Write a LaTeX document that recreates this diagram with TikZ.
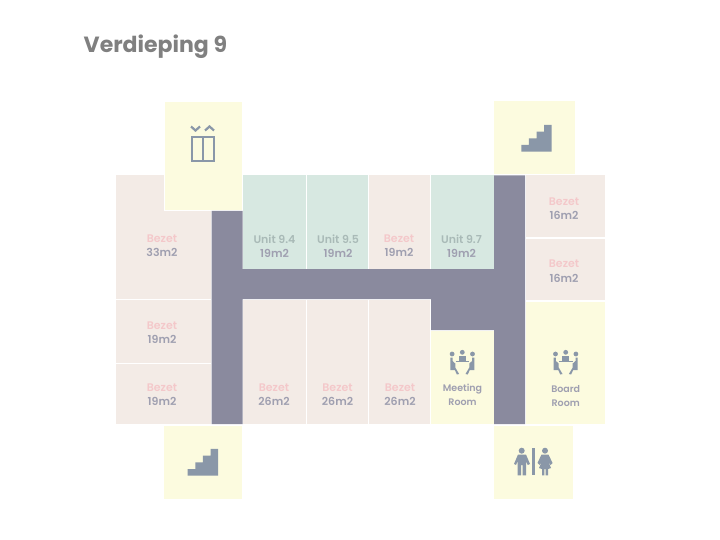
\documentclass[tikz,border=0pt]{standalone}
\usepackage{fontspec}
\setmainfont{Poppins}
\newfontfamily\labelfont{Poppins SemiBold}
\usetikzlibrary{calc}
\definecolor{facility}{HTML}{FCFBDF}
\definecolor{taken}{HTML}{F3EBE6}
\definecolor{free}{HTML}{D7E8E1}
\definecolor{corridor}{HTML}{8A8A9E}
\definecolor{icon}{HTML}{8A97A8}
\definecolor{bezet}{HTML}{F3C8CA}
\definecolor{areatext}{HTML}{9F9FB0}
\definecolor{unittext}{HTML}{A9BAB7}
\tikzset{
	roomlabel/.style={align=center, inner sep=0pt, text=areatext, font=\labelfont\fontsize{11}{14.3}\selectfont},
	smalllabel/.style={roomlabel, font=\labelfont\fontsize{9.5}{13.6}\selectfont},
}
\def\stairsicon(#1,#2){\fill[icon] ($(#1,#2)$) -- ++(0,-6.7) -- ++(7.6,0) -- ++(0,-6.7) -- ++(7.6,0) -- ++(0,-6.7) -- ++(7.6,0) -- ++(0,-6.7) -- ++(7.6,0) -- ++(0,26.8) -- cycle;}
\def\meetingicon(#1,#2){
	\fill[icon] (#1-10.2, #2) circle (2.4);
	\fill[icon] (#1+10.2, #2) circle (2.4);
	\fill[icon] (#1, #2-1.7) circle (2.4);
	\fill[icon] (#1-3.4, #2+1.7) rectangle (#1+3.4, #2+6.7);
	\draw[icon, line width=1.3pt] (#1-6.8, #2+7.8) -- (#1+6.8, #2+7.8);
	\fill[icon] (#1-12, #2+3.5) -- (#1-9.8, #2+3.5) -- (#1-9.8, #2+7) -- (#1-7, #2+9.5) -- (#1-7, #2+13.5) -- (#1-3.2, #2+20) -- (#1-5.4, #2+20.5) -- (#1-7.4, #2+16.2) -- (#1-12, #2+16.2) -- cycle;
	\fill[icon] (#1+12, #2+3.5) -- (#1+9.8, #2+3.5) -- (#1+9.8, #2+7) -- (#1+7, #2+9.5) -- (#1+7, #2+13.5) -- (#1+3.2, #2+20) -- (#1+5.4, #2+20.5) -- (#1+7.4, #2+16.2) -- (#1+12, #2+16.2) -- cycle;
}

\begin{document}
\begin{tikzpicture}[x=1pt, y=-1pt]
	\useasboundingbox (0, 0) rectangle (720, 540);
	%%%%% ROOMS %%%%%
	\fill[taken] (115.5, 175.5) rectangle (211, 299);
	\fill[taken] (115.5, 300) rectangle (211, 362.7);
	\fill[taken] (115.5, 363.7) rectangle (211, 424);
	\fill[free] (243, 175.5) rectangle (305.8, 269);
	\fill[free] (306.8, 175.5) rectangle (368, 269);
	\fill[taken] (369, 175.5) rectangle (430.3, 269);
	\fill[free] (431.3, 175.5) rectangle (494, 269);
	\fill[taken] (526, 175.5) rectangle (605, 237);
	\fill[taken] (526, 238.5) rectangle (605, 300);
	\fill[taken] (243, 300) rectangle (305.8, 424);
	\fill[taken] (306.8, 300) rectangle (368, 424);
	\fill[taken] (369, 300) rectangle (430.3, 424);
	%%%%% FACILITIES %%%%%
	\draw[white, fill=facility] (164.5, 101) rectangle (242.5, 210);
	\fill[facility] (493.5, 101) rectangle (575, 174);
	\fill[facility] (163.5, 425.7) rectangle (242, 499);
	\fill[facility] (494, 425.7) rectangle (572.7, 499);
	\fill[facility] (431.3, 331) rectangle (494, 424);
	\fill[facility] (526, 301.7) rectangle (605, 424);
	%%%%% CORRIDOR %%%%%
	\fill[corridor] (211.7, 211) -- (242.5, 211) -- (242.5, 269) -- (494, 269) -- (494, 175.5) -- (525, 175.5) -- (525, 424) -- (494, 424) -- (494, 330) -- (431, 330) -- (431, 299) -- (242.5, 299) -- (242.5, 424) -- (211.7, 424) -- cycle;
	%%%%% ICONS %%%%%
	\draw[icon, line width=2.2pt] (191.7, 136.7) rectangle (213.8, 161.3);
	\draw[icon, line width=2.2pt] (202.7, 136.7) -- (202.7, 161.3);
	\draw[icon, line width=2.2pt] (191, 126.5) -- (195.5, 130.5) -- (200, 126.5);
	\draw[icon, line width=2.2pt] (205, 130.5) -- (209.5, 126.5) -- (214, 130.5);
	\stairsicon(521.3,151.7)
	\stairsicon(187.7,475.7)
	\meetingicon(462.3,354)
	\meetingicon(565.7,354)
	% toilet
	\fill[icon] (521.7, 450.7) circle (3);
	\fill[icon] (514, 464) -- (518, 454.5) -- (526, 454.5) -- (530, 464) -- (527.7, 465) -- (526, 461) -- (526, 475.3) -- (522.6, 475.3) -- (522.6, 465) -- (521, 465) -- (521, 475.3) -- (517.6, 475.3) -- (517.6, 461) -- (516, 465) -- cycle;
	\fill[icon] (532.2, 448) rectangle (534.6, 475.3);
	\fill[icon] (545, 450.7) circle (3);
	\fill[icon] (537.5, 463) -- (541.5, 454.5) -- (548.5, 454.5) -- (552.5, 463) -- (550.5, 465) -- (548, 461) -- (551, 468) -- (548, 469) -- (548, 475.3) -- (545.6, 475.3) -- (545.6, 469) -- (544.4, 469) -- (544.4, 475.3) -- (542, 475.3) -- (542, 469) -- (539, 468) -- (542, 461) -- (539.5, 465) -- cycle;
	%%%%% LABELS %%%%%
	\node[anchor=base west, inner sep=0pt, text=black!50, font=\fontsize{22}{24}\selectfont\bfseries] (title) at (83.5, 52.5) {Verdieping 9};
	\node[roomlabel] (bezetA) at (162, 246) {\textcolor{bezet}{Bezet}\\33m2};
	\node[roomlabel] (bezetB) at (162, 333) {\textcolor{bezet}{Bezet}\\19m2};
	\node[roomlabel] (bezetC) at (162, 394.5) {\textcolor{bezet}{Bezet}\\19m2};
	\node[roomlabel] (unitA) at (274.5, 246) {\textcolor{unittext}{Unit 9.4}\\19m2};
	\node[roomlabel] (unitB) at (338, 246) {\textcolor{unittext}{Unit 9.5}\\19m2};
	\node[roomlabel] (bezetD) at (399, 246) {\textcolor{bezet}{Bezet}\\19m2};
	\node[roomlabel] (unitC) at (461.5, 246) {\textcolor{unittext}{Unit 9.7}\\19m2};
	\node[roomlabel] (bezetE) at (564, 208.7) {\textcolor{bezet}{Bezet}\\16m2};
	\node[roomlabel] (bezetF) at (564, 271.3) {\textcolor{bezet}{Bezet}\\16m2};
	\node[roomlabel] (bezetG) at (274, 394.5) {\textcolor{bezet}{Bezet}\\26m2};
	\node[roomlabel] (bezetH) at (337.5, 394.5) {\textcolor{bezet}{Bezet}\\26m2};
	\node[roomlabel] (bezetI) at (400, 394.5) {\textcolor{bezet}{Bezet}\\26m2};
	\node[smalllabel] (meeting) at (462.5, 395) {Meeting\\Room};
	\node[smalllabel] (board) at (565.7, 396.3) {Board\\Room};
\end{tikzpicture}
\end{document}
